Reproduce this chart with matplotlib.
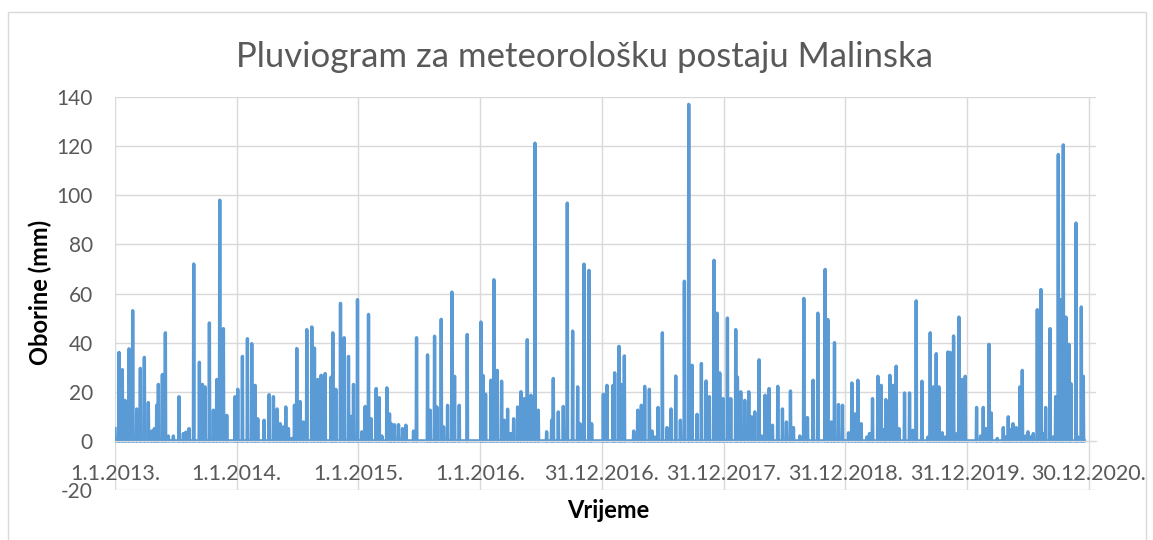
import numpy as np
import matplotlib.pyplot as plt
from matplotlib.patches import Rectangle

# daily rainfall, Malinska station: day index counted from 1.1.2013., value in mm
# (only rainy days; all other days are 0)
rain_day = [0, 12, 22, 30, 42, 53, 65, 76, 88, 100, 110, 118, 125, 130, 142, 151, 160, 175,
            192, 205, 212, 222, 236, 253, 262, 270, 283, 295, 305, 314, 325, 335, 360, 368,
            382, 397, 410, 420, 428, 447, 462, 475, 486, 495, 505, 512, 520, 530, 538, 545,
            555, 565, 575, 590, 598, 608, 618, 630, 648, 653, 662, 676, 687, 700, 707, 715,
            727, 740, 750, 760, 768, 783, 792, 800, 815, 823, 828, 838, 850, 862, 872, 895,
            904, 937, 945, 958, 965, 978, 985, 997, 1010, 1018, 1032, 1056, 1097, 1103,
            1111, 1127, 1136, 1146, 1159, 1167, 1177, 1186, 1195, 1207, 1217, 1227, 1236,
            1247, 1259, 1269, 1294, 1309, 1314, 1329, 1344, 1356, 1372, 1387, 1394, 1406,
            1421, 1429, 1464, 1475, 1493, 1498, 1511, 1518, 1527, 1555, 1567, 1578, 1588,
            1602, 1610, 1618, 1628, 1641, 1655, 1667, 1681, 1695, 1707, 1720, 1730, 1745,
            1758, 1772, 1782, 1796, 1805, 1813, 1823, 1836, 1846, 1861, 1866, 1876, 1888,
            1900, 1909, 1918, 1931, 1939, 1949, 1961, 1971, 1987, 2001, 2013, 2025, 2034,
            2053, 2065, 2076, 2093, 2107, 2129, 2137, 2148, 2157, 2169, 2181, 2199, 2209,
            2219, 2227, 2237, 2254, 2262, 2271, 2287, 2297, 2305, 2311, 2323, 2333, 2342,
            2350, 2367, 2382, 2392, 2402, 2419, 2437, 2444, 2454, 2462, 2470, 2480, 2489,
            2497, 2504, 2514, 2520, 2530, 2539, 2549, 2583, 2595, 2603, 2612, 2620, 2627,
            2645, 2663, 2670, 2678, 2685, 2692, 2702, 2713, 2720, 2730, 2737, 2745, 2753,
            2765, 2776, 2783, 2790, 2803, 2812, 2820, 2828, 2836, 2843, 2851, 2860, 2866,
            2881, 2887, 2897, 2903]
rain_mm = [5, 36, 29, 16.5, 37.5, 53, 13, 29.5, 34, 15.6, 4, 5, 14.5, 23, 27, 44, 2, 2,
           18, 3, 3.5, 5, 72, 32, 23, 22, 48, 12.5, 25, 98, 45.7, 10.4, 18, 21,
           34.4, 41.6, 39.6, 22.6, 9, 8.4, 18.8, 18, 13, 7, 5.7, 13.8, 5, 1, 14.5, 37.6,
           16, 7.7, 45.3, 46.4, 37.8, 25, 26.7, 27.4, 26, 44, 21, 56, 42, 34.4, 10, 23,
           57.5, 3.7, 14, 51.5, 9, 21.3, 17.6, 2, 21.6, 11, 7, 6.6, 6.6, 5, 6.4, 4,
           42, 35, 12.5, 42.6, 13.8, 49.5, 5.7, 14.5, 60.6, 26.3, 14.5, 43.3, 48.4, 26.7,
           19, 24.7, 65.6, 28.7, 24.3, 8.4, 12.9, 3, 9, 13.8, 20, 17.2, 41.2,
           18.6, 121.2, 12.5, 3.7, 8.4, 25.4, 11.8, 14, 96.8, 44.7, 22, 7, 72,
           69.4, 7, 19, 22.6, 22.6, 27.7, 38.5, 23, 34.6, 4, 12.5, 14.5, 22.2,
           21, 4, 1.6, 13.6, 44, 5.4, 13, 26.4, 8.4, 65, 137, 30.8, 10.8,
           31.5, 24.4, 18, 73.5, 52, 27.7, 17.2, 50, 17.2, 45.3, 26, 20, 16.5,
           20, 9.8, 11.8, 33, 2, 18.6, 21.3, 6.4, 22.2, 13, 7.7, 20.3, 5.4,
           2, 58, 9.5, 24.7, 52, 69.8, 49.4, 7.7, 40, 14.8, 14.5, 3.3, 23.6,
           11, 24.7, 7, 1.6, 3, 17.2, 26.3, 22.6, 4.6, 16.8, 26.7, 22.6, 30.4,
           5, 19.5, 19.5, 4.3, 57, 24.3, 1.6, 44, 22, 35.5, 22, 3.3, 1.6,
           36.2, 36, 42.7, 3, 50.4, 25, 26.3, 13.6, 2, 13.6, 5, 39.3, 11.4,
           1, 5.4, 1.6, 9.8, 4.6, 7, 5.4, 22, 28.7, 2, 3.7, 1.6, 3,
           53.4, 61.6, 3, 13.6, 45.7, 1.6, 18, 116.6, 57.5, 120.5, 50.4, 39.3, 23.3,
           88.7, 1.6, 54.5, 26.3]
n_days = 2906

tick_days = [0, 365, 730, 1095, 1460, 1825, 2190, 2555, 2920]
tick_labels = ["1.1.2013.", "1.1.2014.", "1.1.2015.", "1.1.2016.", "31.12.2016.",
               "31.12.2017.", "31.12.2018.", "31.12.2019.", "30.12.2020."]

daily = np.zeros(n_days)
daily[rain_day] = rain_mm

plt.rcParams['font.family'] = ['Lato', 'DejaVu Sans']
plt.rcParams['axes.unicode_minus'] = False
grey = '#595959'

fig = plt.figure(figsize=(11.53, 5.40), dpi=100)
ax = fig.add_axes([115/1153, 1 - 490/540, (1096 - 115)/1153, (490 - 97)/540])

ax.plot(np.arange(n_days), daily, color='#5b9bd5', linewidth=2.4, solid_joinstyle='round')

ax.set_xlim(0, 2941)
ax.set_ylim(-20, 140)
ax.set_yticks(range(-20, 141, 20))
ax.set_xticks(tick_days)
ax.set_xticklabels(tick_labels)
ax.grid(True, color='#d9d9d9', linewidth=1.0)
ax.set_axisbelow(True)

for s in ['left', 'right', 'top']:
    ax.spines[s].set_visible(False)
ax.spines['bottom'].set_position(('data', 0))
ax.spines['bottom'].set_color('#d9d9d9')
ax.tick_params(axis='both', length=0, labelcolor=grey)
ax.tick_params(axis='y', pad=16, labelsize=15)
ax.tick_params(axis='x', pad=17, labelsize=15.5)

fig.text(584/1153, 1 - 57/540, "Pluviogram za meteorološku postaju Malinska",
         ha='center', va='center', fontsize=25, color=grey)
fig.text(40/1153, 1 - 292/540, "Oborine (mm)", rotation=90, ha='center', va='center',
         fontsize=17, fontweight='bold', color='black')
fig.text(608/1153, 1 - 511/540, "Vrijeme", ha='center', va='center',
         fontsize=17, fontweight='bold', color='black')

# light chart border
fig.patches.append(Rectangle((8/1153, -0.05), (1146 - 8)/1153, 1.05 - 12/540,
                             transform=fig.transFigure, fill=False,
                             edgecolor='#d9d9d9', linewidth=1.0))

fig.savefig('out.png', dpi=100)
